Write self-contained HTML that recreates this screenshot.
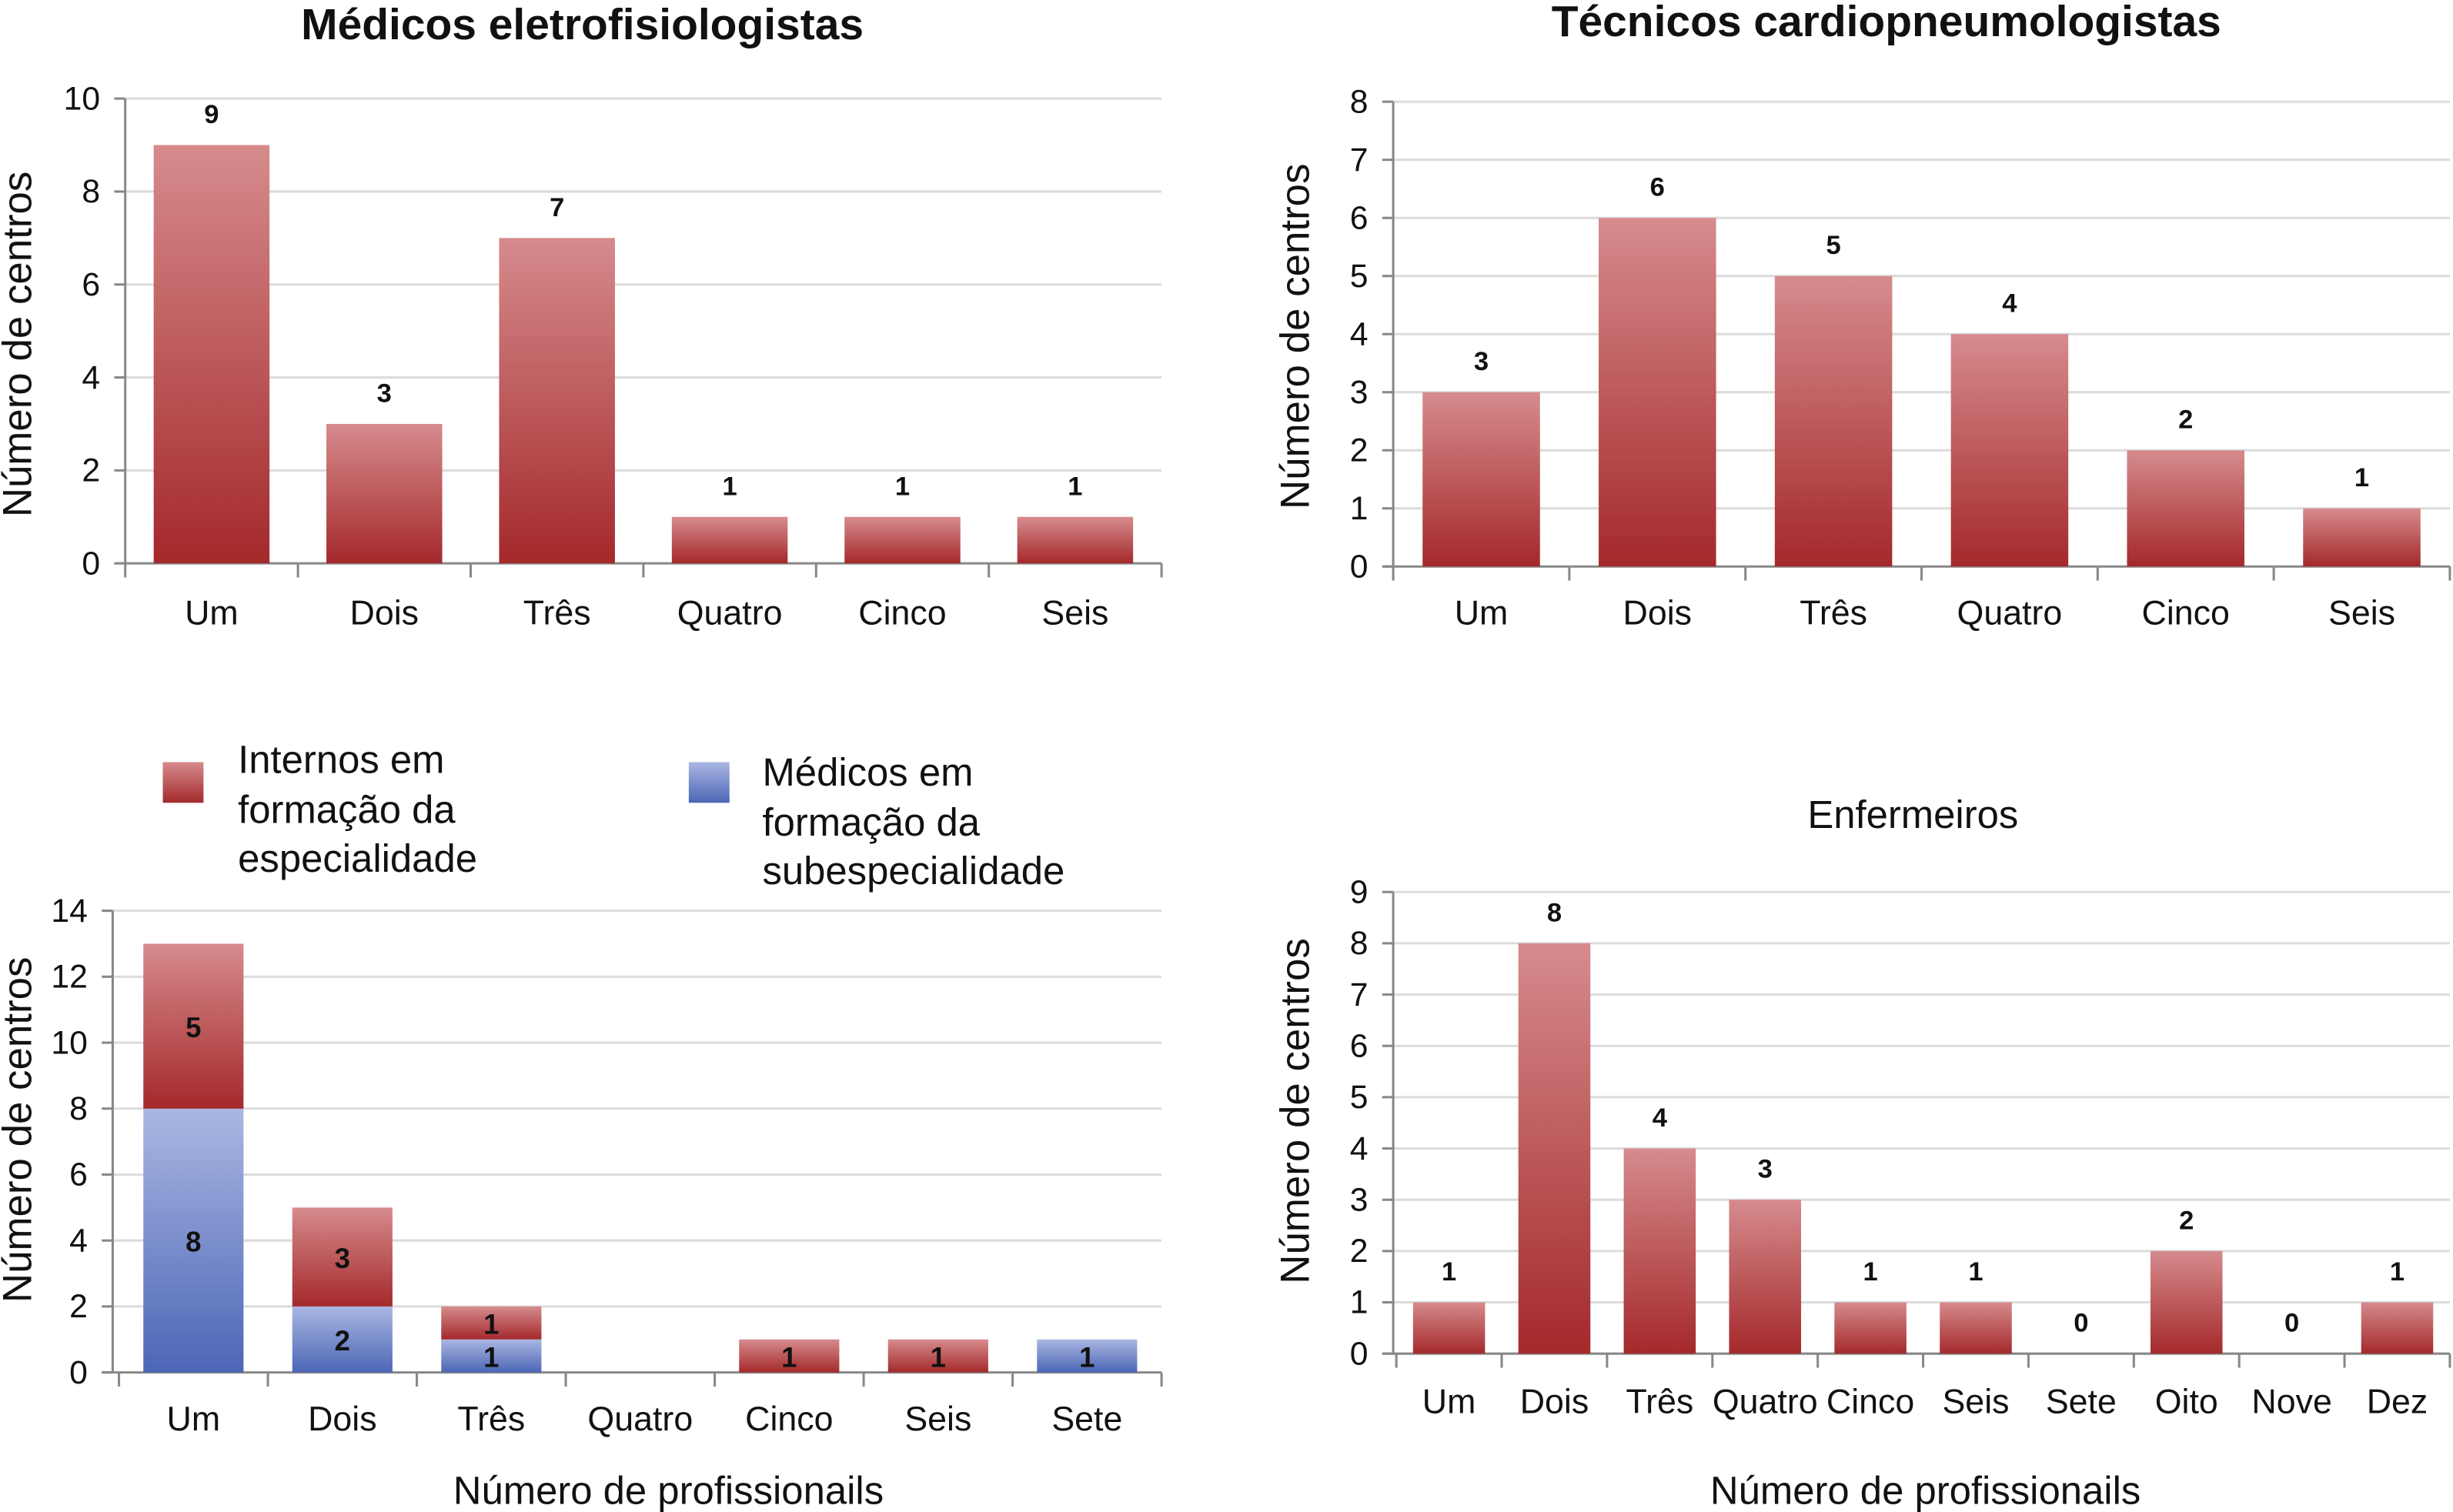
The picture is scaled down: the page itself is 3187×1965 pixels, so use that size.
<!DOCTYPE html>
<html><head><meta charset="utf-8">
<style>
html,body{margin:0;padding:0;background:#fff;}
svg{display:block;font-family:"Liberation Sans",sans-serif;}
</style></head>
<body>
<svg id="fig" width="3187" height="1965" viewBox="0 0 1567 966.2" preserveAspectRatio="none" xmlns="http://www.w3.org/2000/svg">
<defs>
<linearGradient id="gRed" x1="0" y1="0" x2="0" y2="1"><stop offset="0" stop-color="#d68b8d"/><stop offset="1" stop-color="#a4292b"/></linearGradient>
<linearGradient id="gBlue" x1="0" y1="0" x2="0" y2="1"><stop offset="0" stop-color="#aab7e2"/><stop offset="1" stop-color="#4c66b6"/></linearGradient>
</defs>
</svg>
<script>
// Chart 1: Médicos eletrofisiologistas
const c1Categories = ["Um","Dois","Três","Quatro","Cinco","Seis"];
const c1Values = [9,3,7,1,1,1];
const c1Ticks = [0,2,4,6,8,10];
// Chart 2: Técnicos cardiopneumologistas
const c2Categories = ["Um","Dois","Três","Quatro","Cinco","Seis"];
const c2Values = [3,6,5,4,2,1];
const c2Ticks = [0,1,2,3,4,5,6,7,8];
// Chart 3: stacked
const c3Categories = ["Um","Dois","Três","Quatro","Cinco","Seis","Sete"];
const c3Blue = [8,2,1,0,0,0,1];
const c3Red = [5,3,1,0,1,1,0];
const c3Ticks = [0,2,4,6,8,10,12,14];
// Chart 4: Enfermeiros
const c4Categories = ["Um","Dois","Três","Quatro","Cinco","Seis","Sete","Oito","Nove","Dez"];
const c4Values = [1,8,4,3,1,1,0,2,0,1];
const c4Ticks = [0,1,2,3,4,5,6,7,8,9];

const svg = document.getElementById('fig');
const NS = "http://www.w3.org/2000/svg";
function mk(tag, attrs, text){
  const e = document.createElementNS(NS, tag);
  for (const k in attrs) e.setAttribute(k, attrs[k]);
  if (text !== undefined) e.textContent = text;
  svg.appendChild(e);
  return e;
}

function axes(cfg, ticks, cats, prefix){
  const y = v => cfg.y0 - (v - 0) / cfg.max * (cfg.y0 - cfg.yTop);
  const step = (cfg.x1 - cfg.xs) / cats.length;
  const xc = i => cfg.xs + step * (i + 0.5);
  ticks.forEach(t => {
    if (t > 0) {
      const g = mk('line',{x1:cfg.x0,x2:cfg.x1,y1:y(t),y2:y(t),stroke:'#dcdcdc','stroke-width':1.5});
      
      
    }
    const tk = mk('line',{x1:cfg.x0-7,x2:cfg.x0,y1:y(t),y2:y(t),stroke:'#888','stroke-width':1.5});
    
    
    const lb = mk('text',{x:cfg.x0-16,y:y(t)+7,'text-anchor':'end','font-size':21,fill:'#111'}, String(t));
    
    
  });
  const ya = mk('line',{x1:cfg.x0,x2:cfg.x0,y1:cfg.yTop,y2:cfg.y0,stroke:'#888','stroke-width':1.5});
  
  
  const xa = mk('line',{x1:cfg.x0-7,x2:cfg.x1,y1:cfg.y0,y2:cfg.y0,stroke:'#888','stroke-width':1.5});
  
  
  for (let i = 0; i <= cats.length; i++) {
    const xt = cfg.xs + step * i;
    const tk = mk('line',{x1:xt,x2:xt,y1:cfg.y0,y2:cfg.y0+9,stroke:'#888','stroke-width':1.5});
    
    
  }
  cats.forEach((c, i) => {
    const lb = mk('text',{x:xc(i),y:cfg.labY,'text-anchor':'middle','font-size':cfg.catFs||22,fill:'#111'}, c);
    
    
  });
  const yt = mk('text',{x:0,y:0,'text-anchor':'middle','font-size':26,fill:'#111',transform:`translate(${cfg.ytX},${cfg.ytY}) rotate(-90)`}, 'Número de centros');
  
  
  return {y, xc, step};
}

function simpleBars(cfg, vals, prefix){
  vals.forEach((v, i) => {
    const x = cfg.xc(i) - cfg.bw/2;
    if (v > 0) {
      const r = mk('rect',{x:x,y:cfg.y(v),width:cfg.bw,height:cfg.y(0)-cfg.y(v),fill:'url(#gRed)'});
      
      
    }
    const t = mk('text',{x:cfg.xc(i),y:cfg.y(v)-14,'text-anchor':'middle','font-size':17,'font-weight':'bold',fill:'#111'}, String(v));
    
    
  });
}

// Chart 1
{
  const cfg = {x0:80,xs:80,x1:742,y0:360,yTop:63,max:10,labY:399,ytX:20,ytY:220};
  const a = axes(cfg, c1Ticks, c1Categories, 'chart1');
  simpleBars({y:a.y,xc:a.xc,bw:74}, c1Values, 'chart1');
  const t = mk('text',{x:372,y:25,'text-anchor':'middle','font-size':28,'font-weight':'bold',fill:'#111'},'Médicos eletrofisiologistas');
  
  
}
// Chart 2
{
  const cfg = {x0:890,xs:890,x1:1565,y0:362,yTop:65,max:8,labY:399,ytX:836,ytY:215};
  const a = axes(cfg, c2Ticks, c2Categories, 'chart2');
  simpleBars({y:a.y,xc:a.xc,bw:75}, c2Values, 'chart2');
  const t = mk('text',{x:1205,y:23,'text-anchor':'middle','font-size':28,'font-weight':'bold',fill:'#111'},'Técnicos cardiopneumologistas');
  
  
}
// Chart 3 stacked
{
  const cfg = {x0:72,xs:76,x1:742,y0:877,yTop:582,max:14,labY:914,ytX:20,ytY:722};
  const a = axes(cfg, c3Ticks, c3Categories, 'chart3');
  const bw = 64;
  c3Categories.forEach((c, i) => {
    const b = c3Blue[i], r = c3Red[i];
    const x = a.xc(i) - bw/2;
    if (b > 0) {
      const rb = mk('rect',{x:x,y:a.y(b),width:bw,height:a.y(0)-a.y(b),fill:'url(#gBlue)'});
      
      
      const t = mk('text',{x:a.xc(i),y:(a.y(0)+a.y(b))/2+7,'text-anchor':'middle','font-size':18,'font-weight':'bold',fill:'#111'},String(b));
      
      
    }
    if (r > 0) {
      const rr = mk('rect',{x:x,y:a.y(b+r),width:bw,height:a.y(b)-a.y(b+r),fill:'url(#gRed)'});
      
      
      const t = mk('text',{x:a.xc(i),y:(a.y(b)+a.y(b+r))/2+7,'text-anchor':'middle','font-size':18,'font-weight':'bold',fill:'#111'},String(r));
      
      
    }
  });
  const xt = mk('text',{x:427,y:961,'text-anchor':'middle','font-size':25,fill:'#111'},'Número de profissionails');
  
  
  const l1 = mk('rect',{x:104,y:487,width:26,height:26,fill:'url(#gRed)'});
  
  
  [['Internos em',494],['formação da',526],['especialidade',557]].forEach(([s,yy]) => {
    const t = mk('text',{x:152,y:yy,'font-size':25,fill:'#111'},s);
    
    
  });
  const l2 = mk('rect',{x:440,y:487,width:26,height:26,fill:'url(#gBlue)'});
  
  
  [['Médicos em',502],['formação da',534],['subespecialidade',565]].forEach(([s,yy]) => {
    const t = mk('text',{x:487,y:yy,'font-size':25,fill:'#111'},s);
    
    
  });
}
// Chart 4
{
  const cfg = {x0:890,xs:892,x1:1565,y0:865,yTop:570,max:9,labY:903,ytX:836,ytY:710,catFs:22};
  const a = axes(cfg, c4Ticks, c4Categories, 'chart4');
  simpleBars({y:a.y,xc:a.xc,bw:46}, c4Values, 'chart4');
  const t = mk('text',{x:1222,y:529,'text-anchor':'middle','font-size':25,fill:'#111'},'Enfermeiros');
  
  
  const xt = mk('text',{x:1230,y:961,'text-anchor':'middle','font-size':25,fill:'#111'},'Número de profissionails');
  
  
}
</script>
</body></html>
